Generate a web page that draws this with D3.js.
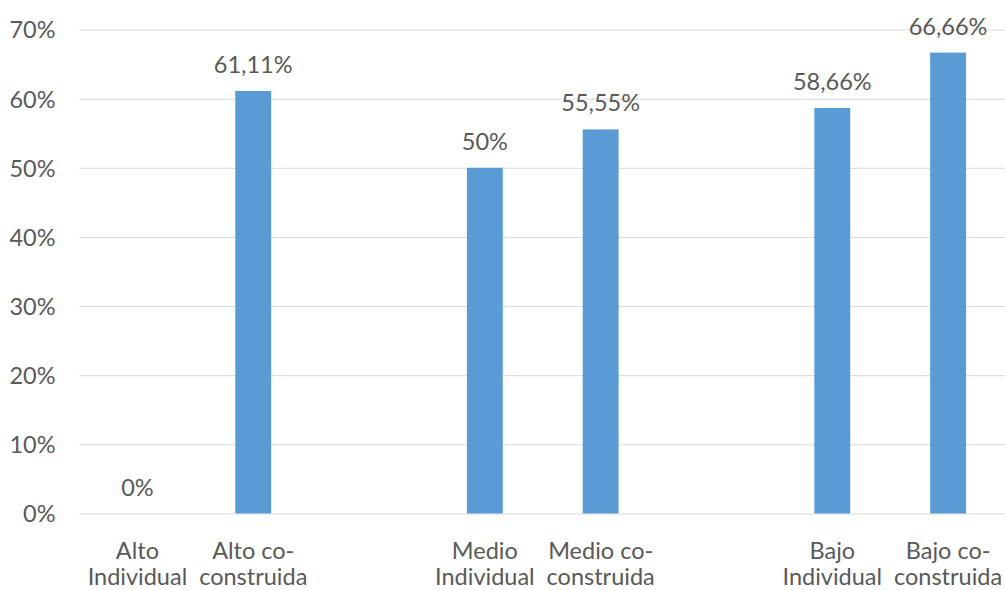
<!DOCTYPE html>
<html>
<head>
<meta charset="utf-8">
<script src="https://cdn.jsdelivr.net/npm/d3@7"></script>
<style>
  body { margin: 0; background: #fff; }
  svg { display: block; }
  text { fill: #595959; font-family: Lato, "Open Sans", sans-serif; font-size: 23.5px; }
  .grid line { stroke: #d9d9d9; stroke-width: 1; }
  .grid .domain { display: none; }
</style>
</head>
<body>
<svg></svg>
<script>
// categories (empty strings are the blank gaps between groups)
const categories = ['Alto Individual', 'Alto co-construida', '', 'Medio Individual', 'Medio co-construida', '', 'Bajo Individual', 'Bajo co-construida'];
const labelLines = [['Alto', 'Individual'], ['Alto co-', 'construida'], [], ['Medio', 'Individual'], ['Medio co-', 'construida'], [], ['Bajo', 'Individual'], ['Bajo co-', 'construida']];
const values = [0, 0.6111, null, 0.50, 0.5555, null, 0.5866, 0.6666];
const valueLabels = ['0%', '61,11%', '', '50%', '55,55%', '', '58,66%', '66,66%'];
const yTicks = [0, 0.1, 0.2, 0.3, 0.4, 0.5, 0.6, 0.7];

const W = 1005, H = 590;
const margin = {top: 29.5, left: 79.5, right: -1, bottom: 76.5};
const width = W - margin.left - margin.right;
const height = H - margin.top - margin.bottom;

const svg = d3.select('svg')
  .attr('width', W)
  .attr('height', H);

const chart = svg.append('g')
  .attr('transform', `translate(${margin.left}, ${margin.top})`);

const yScale = d3.scaleLinear()
  .domain([0, 0.7])
  .range([height, 0]);

const xScale = d3.scaleBand()
  .domain(d3.range(categories.length))
  .range([0, width])
  .paddingInner(0.69)
  .paddingOuter(0.345);

// horizontal grid lines + y labels
const yAxis = chart.append('g')
  .attr('class', 'grid')
  .call(d3.axisLeft(yScale).tickValues(yTicks).tickSize(-width).tickFormat(d3.format('.0%')));
yAxis.selectAll('text')
  .attr('x', -24)
  .attr('dy', '0.36em');

// x labels, two lines each
const xAxis = chart.append('g')
  .attr('transform', `translate(0, ${height})`)
  .call(d3.axisBottom(xScale).tickSize(0).tickFormat(''));
xAxis.select('.domain').remove();
xAxis.selectAll('.tick').each(function(d) {
  const t = d3.select(this).append('text')
    .attr('text-anchor', 'middle');
  labelLines[d].forEach((line, i) => {
    t.append('tspan')
      .attr('x', 0)
      .attr('y', 45 + i * 26.5)
      .text(line);
  });
});

const idx = d3.range(categories.length).filter(i => values[i] !== null);

chart.selectAll('.bar')
  .data(idx)
  .enter()
  .append('rect')
  .attr('class', 'bar')
  .attr('x', i => xScale(i))
  .attr('y', i => yScale(values[i]))
  .attr('width', xScale.bandwidth())
  .attr('height', i => height - yScale(values[i]))
  .attr('fill', '#5b9bd5');

chart.selectAll('.vlabel')
  .data(idx)
  .enter()
  .append('text')
  .attr('class', 'vlabel')
  .attr('x', i => xScale(i) + xScale.bandwidth() / 2)
  .attr('y', i => yScale(values[i]) - 18)
  .attr('text-anchor', 'middle')
  .text(i => valueLabels[i]);
</script>
</body>
</html>
